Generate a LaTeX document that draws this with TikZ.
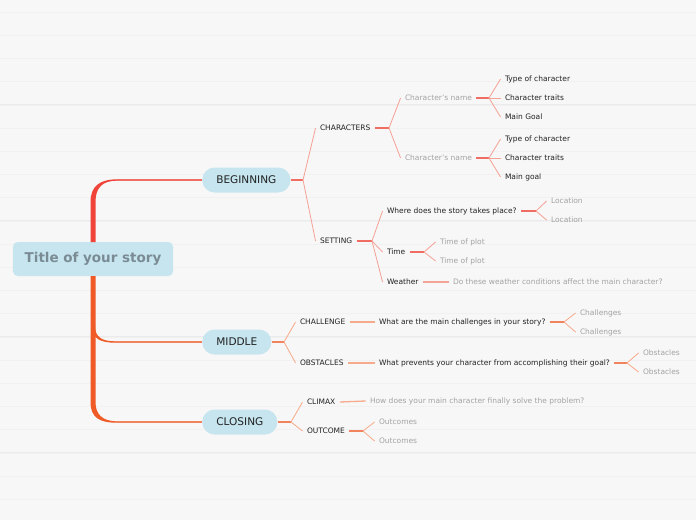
\documentclass[tikz,border=0pt]{standalone}
\usepackage{fontspec}
\setmainfont{DejaVu Sans}
\usepackage{tikz}
\usetikzlibrary{positioning,calc}
\definecolor{MPaper}{HTML}{F7F7F7}
\definecolor{MRule}{HTML}{EBEBEB}
\definecolor{MRuleLt}{HTML}{F1F1F1}
\definecolor{MBlue}{HTML}{C6E5EF}
\definecolor{MSlate}{HTML}{7A8B94}
\definecolor{MRed}{HTML}{F0443A}
\definecolor{MOrange}{HTML}{EF5A26}
\definecolor{MRedStub}{HTML}{EF6D63}
\definecolor{MRedTwig}{HTML}{F5A297}
\definecolor{MOrStub}{HTML}{F2835F}
\definecolor{MOrTwig}{HTML}{F7AA8B}
\definecolor{MInk}{HTML}{222222}
\definecolor{MGrey}{HTML}{A3A3A3}

\begin{document}
\begin{tikzpicture}[x=0.03cm, y=-0.03cm,
  every node/.style={font=\fontsize{6.4}{7.5}\selectfont, text=MInk},
  central/.style={fill=MBlue, rounded corners=4pt, minimum width=4.8cm, minimum height=1.02cm,
                  font=\fontsize{11.5}{13}\selectfont\bfseries, text=MSlate},
  topic/.style={fill=MBlue, rounded corners=0.37cm, minimum height=0.75cm, inner xsep=12pt,
                anchor=west, font=\fontsize{9}{11}\selectfont},
  leaf/.style={anchor=west, inner sep=0pt, outer xsep=3.8pt, xshift=-3.8pt,
               text height=6.2pt, text depth=1.2pt},
  hint/.style={leaf, text=MGrey},
  stubR/.style={draw=MRedStub, line width=1.3pt},
  twigR/.style={draw=MRedTwig, line width=0.7pt},
  stubO/.style={draw=MOrStub, line width=1.3pt},
  twigO/.style={draw=MOrTwig, line width=0.7pt}]
\useasboundingbox (0,0) rectangle (696,520);
% ruled paper
\fill[MPaper] (0,0) rectangle (696,520);
\foreach \k in {0,...,21} {
  \draw[MRuleLt, line width=0.4pt] (0,12+23.2*\k) -- (696,12+23.2*\k);
  \draw[MRule, line width=0.45pt] (0,35+23.2*\k) -- (696,35+23.2*\k);
}

\node[central] (root) at (93,259) {Title of your story};
\node[topic] (beg) at (202,180) {BEGINNING};
\node[topic] (mid) at (202,342) {MIDDLE};
\node[topic] (clo) at (202,422) {CLOSING};

% beginning
\node[leaf] (chars) at (320,128) {CHARACTERS};
\node[hint] (name1) at (405,98) {Character's name};
\node[hint] (name2) at (405,158) {Character's name};
\node[leaf] (type1) at (505,79) {Type of character};
\node[leaf] (trait1) at (505,98) {Character traits};
\node[leaf] (goal1) at (505,117) {Main Goal};
\node[leaf] (type2) at (505,139) {Type of character};
\node[leaf] (trait2) at (505,158) {Character traits};
\node[leaf] (goal2) at (505,177) {Main goal};
\node[leaf] (sett) at (320,241) {SETTING};
\node[leaf] (where) at (387,211) {Where does the story takes place?};
\node[hint] (loc1) at (551,201) {Location};
\node[hint] (loc2) at (551,220) {Location};
\node[leaf] (time) at (387,252) {Time};
\node[hint] (plot1) at (440,242) {Time of plot};
\node[hint] (plot2) at (440,261) {Time of plot};
\node[leaf] (wthr) at (387,282) {Weather};
\node[hint] (wthrq) at (453,282) {Do these weather conditions affect the main character?};

% middle
\node[leaf] (chal) at (300,322) {CHALLENGE};
\node[leaf] (chalq) at (379,322) {What are the main challenges in your story?};
\node[hint] (chal1) at (580,313) {Challenges};
\node[hint] (chal2) at (580,332) {Challenges};
\node[leaf] (obst) at (300,363) {OBSTACLES};
\node[leaf] (obstq) at (379,363) {What prevents your character from accomplishing their goal?};
\node[hint] (obst1) at (643,353) {Obstacles};
\node[hint] (obst2) at (643,372) {Obstacles};

% closing
\node[leaf] (clim) at (307,402) {CLIMAX};
\node[hint] (climq) at (370,401) {How does your main character finally solve the problem?};
\node[leaf] (outc) at (307,431) {OUTCOME};
\node[hint] (outc1) at (379,422) {Outcomes};
\node[hint] (outc2) at (379,441) {Outcomes};

% trunk
\coordinate (kneeB) at (116,180);
\coordinate (kneeM) at (114,342);
\coordinate (kneeC) at (116,422);
\fill[MRed] (90.5,242) -- (90.5,202) .. controls (90.5,186) and (100,179.3) .. (117,179.3)
  -- (117,180.7) .. controls (102,180.7) and (95.5,188) .. (95.5,202) -- (95.5,242) -- cycle;
\fill[MOrange] (90.5,276) -- (90.5,402) .. controls (90.5,418) and (100,422.7) .. (117,422.7)
  -- (117,421.3) .. controls (102,421.3) and (95.5,414) .. (95.5,402) -- (95.5,276) -- cycle;
\fill[MOrange] (95,326) .. controls (95,337) and (102,341.3) .. (115,341.3)
  -- (115,342.7) .. controls (100,342.7) and (93,338) .. (93,330) -- cycle;
\draw[MRedStub, line width=0.9pt] (kneeB) -- (beg.west);
\draw[MOrStub, line width=0.9pt] (kneeM) -- (mid.west);
\draw[MOrStub, line width=0.9pt] (kneeC) -- (clo.west);

% forks
\coordinate (fBeg) at (303,180);
\coordinate (fChar) at (389,128);
\coordinate (fName1) at (489,98);
\coordinate (fName2) at (489,158);
\coordinate (fSett) at (372,241);
\coordinate (fWhere) at (536,211);
\coordinate (fTime) at (424,252);
\coordinate (fMid) at (284,342);
\coordinate (fChal) at (564,322);
\coordinate (fObst) at (627,363);
\coordinate (fClo) at (291,422);
\coordinate (fOutc) at (363,431);

\draw[stubR] (beg.east) -- (fBeg);
\foreach \n in {chars,sett} {\draw[twigR] (fBeg) -- (\n.west);}
\draw[stubR] (chars.east) -- (fChar);
\foreach \n in {name1,name2} {\draw[twigR] (fChar) -- (\n.west);}
\draw[stubR] (name1.east) -- (fName1);
\foreach \n in {type1,trait1,goal1} {\draw[twigR] (fName1) -- (\n.west);}
\draw[stubR] (name2.east) -- (fName2);
\foreach \n in {type2,trait2,goal2} {\draw[twigR] (fName2) -- (\n.west);}
\draw[stubR] (sett.east) -- (fSett);
\foreach \n in {where,time,wthr} {\draw[twigR] (fSett) -- (\n.west);}
\draw[stubR] (where.east) -- (fWhere);
\foreach \n in {loc1,loc2} {\draw[twigR] (fWhere) -- (\n.west);}
\draw[stubR] (time.east) -- (fTime);
\foreach \n in {plot1,plot2} {\draw[twigR] (fTime) -- (\n.west);}
\draw[twigR, line width=1pt] (wthr.east) -- (wthrq.west);

\draw[stubO] (mid.east) -- (fMid);
\foreach \n in {chal,obst} {\draw[twigO] (fMid) -- (\n.west);}
\draw[twigO, line width=1.1pt] (chal.east) -- (chalq.west);
\draw[stubO] (chalq.east) -- (fChal);
\foreach \n in {chal1,chal2} {\draw[twigO] (fChal) -- (\n.west);}
\draw[twigO, line width=1.1pt] (obst.east) -- (obstq.west);
\draw[stubO] (obstq.east) -- (fObst);
\foreach \n in {obst1,obst2} {\draw[twigO] (fObst) -- (\n.west);}

\draw[stubO] (clo.east) -- (fClo);
\foreach \n in {clim,outc} {\draw[twigO] (fClo) -- (\n.west);}
\draw[twigO, line width=1.1pt] (clim.east) -- (climq.west);
\draw[stubO] (outc.east) -- (fOutc);
\foreach \n in {outc1,outc2} {\draw[twigO] (fOutc) -- (\n.west);}
\end{tikzpicture}
\end{document}
